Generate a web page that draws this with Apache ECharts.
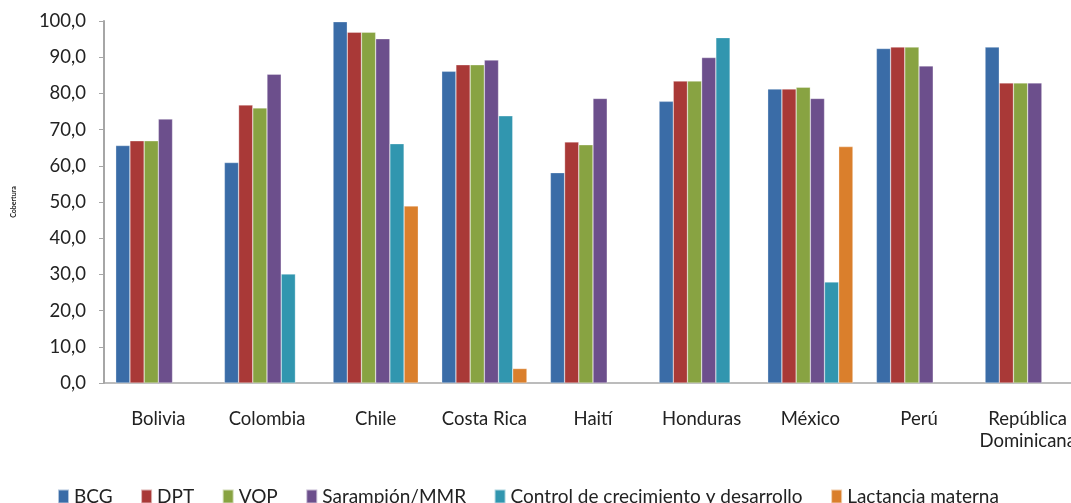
<!DOCTYPE html>
<html>
<head>
<meta charset="utf-8">
<script src="https://cdn.jsdelivr.net/npm/echarts@6/dist/echarts.min.js"></script>
<style>html,body{margin:0;padding:0;background:#fff}#c{width:1071px;height:503px}</style>
</head>
<body>
<div id="c"></div>
<script>
const categories = ['Bolivia','Colombia','Chile','Costa Rica','Haití','Honduras','México','Perú','República\nDominicana'];
const seriesNames = ['BCG','DPT','VOP','Sarampión/MMR','Control de crecimiento y desarrollo','Lactancia materna'];
const bcg      = [65.6, 60.9, 99.8, 86.1, 58.1, 77.8, 81.2, 92.4, 92.8];
const dpt      = [66.9, 76.8, 96.9, 87.9, 66.6, 83.4, 81.2, 92.8, 82.9];
const vop      = [66.9, 76.0, 96.9, 87.9, 65.8, 83.4, 81.7, 92.8, 82.9];
const sarampion= [72.9, 85.3, 95.1, 89.2, 78.6, 89.9, 78.6, 87.6, 82.9];
const control  = [null, 30.1, 66.1, 73.8, null, 95.4, 27.9, null, null];
const lactancia= [null, null, 48.9, 4.0, null, null, 65.3, null, null];
const yTicks = {min: 0, max: 100, interval: 10};
const colors = ['#3A6CA7','#A93937','#88A342','#6C4F8C','#3196AF','#DA7F2C'];

const data = [bcg, dpt, vop, sarampion, control, lactancia];
const font = 'Lato, "Open Sans", sans-serif';
const chart = echarts.init(document.getElementById('c'), null, {renderer: 'canvas'});
chart.setOption({
  animation: false,
  color: colors,
  grid: {left: 104, width: 978, top: 21, height: 362, containLabel: false, outerBoundsMode: 'none'},
  xAxis: {
    type: 'category',
    data: categories,
    axisLine: {lineStyle: {color: '#A6A6A6', width: 1.5}},
    axisTick: {show: false},
    axisLabel: {interval: 0, color: '#222', fontSize: 18.5, fontFamily: font, margin: 25, lineHeight: 22}
  },
  yAxis: {
    type: 'value',
    min: yTicks.min, max: yTicks.max, interval: yTicks.interval,
    name: 'Cobertura',
    nameLocation: 'middle',
    nameGap: 87,
    nameTextStyle: {fontSize: 7, color: '#222', fontFamily: font, fontWeight: 'bold'},
    axisLine: {show: true, lineStyle: {color: '#A6A6A6', width: 2}},
    axisTick: {show: true, length: 5, lineStyle: {color: '#A6A6A6'}},
    splitLine: {show: false},
    axisLabel: {color: '#222', fontSize: 18.5, fontFamily: font, margin: 18,
      formatter: v => v.toFixed(1).replace('.', ',')}
  },
  legend: {
    bottom: -8, left: 52,
    itemWidth: 11, itemHeight: 14, itemGap: 27.5,
    icon: 'rect',
    textStyle: {fontSize: 19, color: '#222', fontFamily: font},
    data: seriesNames
  },
  series: seriesNames.map((n, i) => ({
    name: n, type: 'bar', data: data[i],
    barWidth: 14.2, barGap: '0%',
    itemStyle: {borderColor: 'rgba(255,255,255,0.6)', borderWidth: 0.5}
  }))
});
</script>
</body>
</html>
